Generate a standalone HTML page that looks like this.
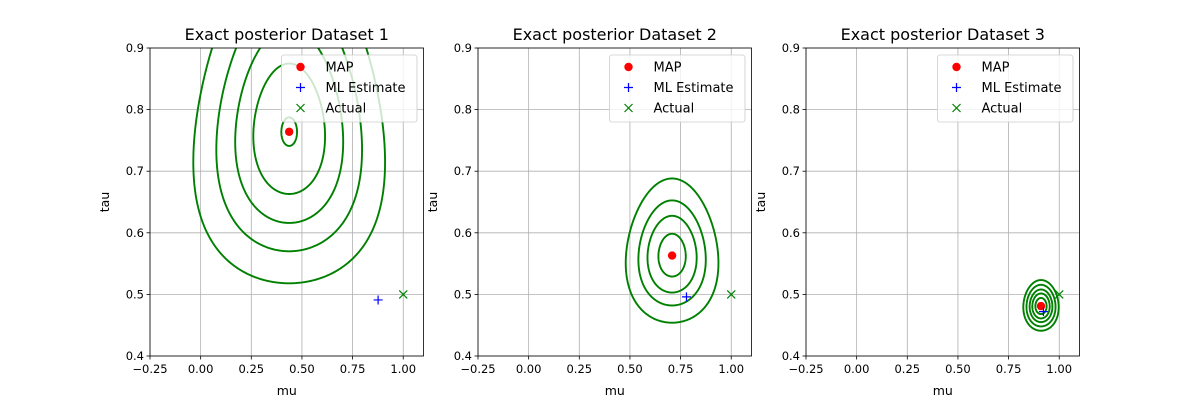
<!DOCTYPE html>
<html><head><meta charset="utf-8"><style>
html,body{margin:0;padding:0;background:#fff}
svg{display:block;font-family:"DejaVu Sans","Liberation Sans",sans-serif}
</style></head><body>
<svg id="fig" width="1200" height="400" viewBox="0 0 1200 400" xmlns="http://www.w3.org/2000/svg"></svg>
<script>
// ---- data ----
const titles = ["Exact posterior Dataset 1","Exact posterior Dataset 2","Exact posterior Dataset 3"];
const mapMu = [0.437, 0.708, 0.91];
const mapTau = [0.764, 0.563, 0.481];
const mlMu = [0.876, 0.779, 0.922];
const mlTau = [0.491, 0.496, 0.472];
const actualMu = [1.0, 1.0, 1.0];
const actualTau = [0.5, 0.5, 0.5];
const contourBottoms1 = [0.741, 0.663, 0.616, 0.570, 0.518];
const contourBottoms2 = [0.529, 0.503, 0.482, 0.454];
const contourBottoms3 = [0.468, 0.461, 0.455, 0.448, 0.441];
const shapeC = [0.805, 1.48, 2.0];
const xTicks = [-0.25, 0, 0.25, 0.5, 0.75, 1.0];
const xTickLabels = ["\u22120.25","0.00","0.25","0.50","0.75","1.00"];
const yTicks = [0.4, 0.5, 0.6, 0.7, 0.8, 0.9];
const yTickLabels = ["0.4","0.5","0.6","0.7","0.8","0.9"];
const bottomsAll = [contourBottoms1, contourBottoms2, contourBottoms3];

const NS = "http://www.w3.org/2000/svg";
const svg = document.getElementById("fig");
function mk(tag, attrs, parent){const e=document.createElementNS(NS,tag);for(const k in attrs)e.setAttribute(k,attrs[k]);(parent||svg).appendChild(e);return e;}
const axLeft=[150,478,806], axW=273.5, axTop=48, axH=308;
const xMin=-0.25,xMax=1.1,yMin=0.4,yMax=0.9;

for(let p=0;p<3;p++){
  const L=axLeft[p];
  const sx=v=>L+(v-xMin)/(xMax-xMin)*axW;
  const sy=v=>axTop+(yMax-v)/(yMax-yMin)*axH;
  const g=mk("g",{});
  
  
  const clip=mk("clipPath",{id:"clip"+p},g);
  mk("rect",{x:L,y:axTop,width:axW,height:axH},clip);
  xTicks.forEach((t,i)=>{
    const x=sx(t);
    const gl=mk("line",{x1:x,x2:x,y1:axTop,y2:axTop+axH,stroke:"#b0b0b0","stroke-width":0.8},g);
    
    
    mk("line",{x1:x,x2:x,y1:axTop+axH,y2:axTop+axH+3.5,stroke:"#000","stroke-width":0.8},g);
    const tx=mk("text",{x:x,y:axTop+axH+17,"font-size":"11.5","text-anchor":"middle",fill:"#000"},g);
    tx.textContent=xTickLabels[i];
    
    
  });
  yTicks.forEach((t,i)=>{
    const y=sy(t);
    const gl=mk("line",{x1:L,x2:L+axW,y1:y,y2:y,stroke:"#b0b0b0","stroke-width":0.8},g);
    
    
    mk("line",{x1:L-3.5,x2:L,y1:y,y2:y,stroke:"#000","stroke-width":0.8},g);
    const ty=mk("text",{x:L-6,y:y+4,"font-size":"11.5","text-anchor":"end",fill:"#000"},g);
    ty.textContent=yTickLabels[i];
    
    
  });
  const m=mapMu[p], mode=mapTau[p], c=shapeC[p];
  const cg=mk("g",{"clip-path":"url(#clip"+p+")"},g);
  const f=t=>t-1-Math.log(t);
  bottomsAll[p].forEach(b=>{
    const lvl=f(b/mode);
    let lo=1,hi=5;
    for(let k=0;k<60;k++){const mid=(lo+hi)/2; if(f(mid)<lvl)lo=mid; else hi=mid;}
    const tLo=b/mode, tHi=lo;
    const N=300, right=[], left=[];
    for(let k=0;k<=N;k++){
      const th=Math.PI*k/N;
      const t=tLo+(tHi-tLo)*(1-Math.cos(th))/2;
      const tau=t*mode;
      const hw=Math.sqrt(Math.max(0,2*(lvl-f(t))/(c*tau)));
      right.push([sx(m+hw),sy(tau)]);
      left.push([sx(m-hw),sy(tau)]);
    }
    const pts=right.concat(left.reverse());
    const d="M"+pts.map(q=>q[0].toFixed(2)+","+q[1].toFixed(2)).join("L")+"Z";
    const path=mk("path",{d:d,fill:"none",stroke:"#008000","stroke-width":1.9},cg);
    
    
  });
  const mp=mk("circle",{cx:sx(mapMu[p]),cy:sy(mapTau[p]),r:4.2,fill:"#ff0000"},g);
  
  
  const mx=sx(mlMu[p]), my=sy(mlTau[p]);
  const ml=mk("path",{d:`M${mx-4.5},${my}H${mx+4.5}M${mx},${my-4.5}V${my+4.5}`,stroke:"#0000ff","stroke-width":1.2,fill:"none"},g);
  
  
  const ax=sx(actualMu[p]), ay=sy(actualTau[p]);
  const ac=mk("path",{d:`M${ax-4},${ay-4}L${ax+4},${ay+4}M${ax-4},${ay+4}L${ax+4},${ay-4}`,stroke:"#008000","stroke-width":1.2,fill:"none"},g);
  
  
  mk("rect",{x:L,y:axTop,width:axW,height:axH,fill:"none",stroke:"#000","stroke-width":0.8},g);
  const ti=mk("text",{x:L+axW/2,y:40,"font-size":"16","text-anchor":"middle",fill:"#000"},g);
  ti.textContent=titles[p];
  
  
  const xl=mk("text",{x:L+axW/2,y:395,"font-size":"12.5","text-anchor":"middle",fill:"#000"},g);
  xl.textContent="mu";
  
  
  const yl=mk("text",{x:0,y:0,"font-size":"12.5","text-anchor":"middle",fill:"#000",transform:`translate(${L-41},${axTop+axH/2}) rotate(-90)`},g);
  yl.textContent="tau";
  
  
  const lx=L+axW-142, ly=55;
  const lg=mk("g",{},g);
  
  
  mk("rect",{x:lx,y:ly,width:135.5,height:67,rx:2.5,fill:"#fff","fill-opacity":0.8,stroke:"#cccccc","stroke-width":0.8},lg);
  const rows=[["MAP",12],["ML Estimate",32.5],["Actual",53]];
  const mxL=lx+19;
  mk("circle",{cx:mxL,cy:ly+rows[0][1],r:4.2,fill:"#ff0000"},lg);
  let yy=ly+rows[1][1];
  mk("path",{d:`M${mxL-4.5},${yy}H${mxL+4.5}M${mxL},${yy-4.5}V${yy+4.5}`,stroke:"#0000ff","stroke-width":1.2},lg);
  yy=ly+rows[2][1];
  mk("path",{d:`M${mxL-4},${yy-4}L${mxL+4},${yy+4}M${mxL-4},${yy+4}L${mxL+4},${yy-4}`,stroke:"#008000","stroke-width":1.2},lg);
  rows.forEach(r=>{
    const t=mk("text",{x:lx+44,y:ly+r[1]+4.5,"font-size":"13",fill:"#000"},lg);
    t.textContent=r[0];
    
    
  });
}
</script>
</body></html>
